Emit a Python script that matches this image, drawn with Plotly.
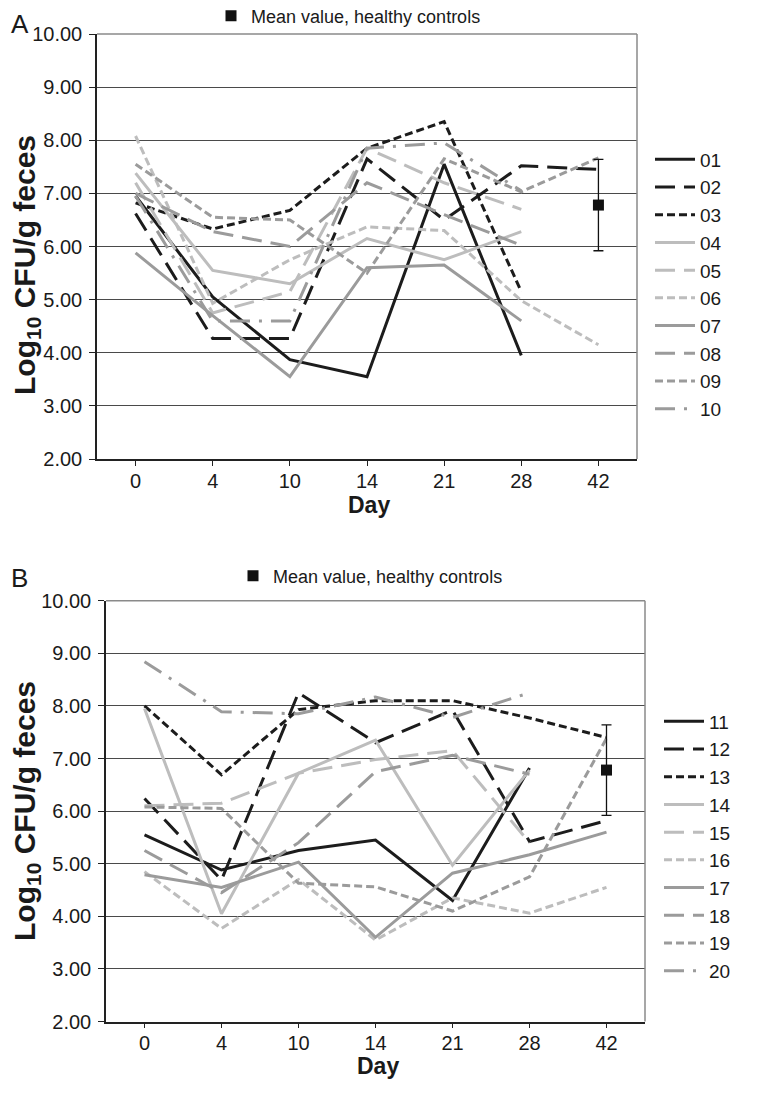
import plotly.graph_objects as go

days = ["0", "4", "10", "14", "21", "28", "42"]

# Panel A patients
ids_a = ["01", "02", "03", "04", "05", "06", "07", "08", "09", "10"]
a01 = [6.95, 5.05, 3.87, 3.55, 7.55, 3.95, None]
a02 = [6.62, 4.27, 4.27, 7.65, 6.50, 7.52, 7.45]
a03 = [6.82, 6.33, 6.68, 7.85, 8.35, 5.15, None]
a04 = [7.38, 5.55, 5.30, 6.15, 5.75, 6.28, None]
a05 = [7.20, 4.75, 5.15, 7.85, 7.20, 6.70, None]
a06 = [8.08, 4.93, 5.75, 6.37, 6.30, 4.98, 4.15]
a07 = [5.88, 4.70, 3.55, 5.60, 5.65, 4.60, None]
a08 = [7.00, 6.28, 6.00, 7.20, 6.60, 6.02, None]
a09 = [7.55, 6.55, 6.50, 5.50, 7.65, 7.03, 7.67]
a10 = [6.95, 4.60, 4.60, 7.85, 7.95, 7.05, None]
values_a = [a01, a02, a03, a04, a05, a06, a07, a08, a09, a10]

# Panel B patients
ids_b = ["11", "12", "13", "14", "15", "16", "17", "18", "19", "20"]
b11 = [5.55, 4.88, 5.25, 5.45, 4.30, 6.82, None]
b12 = [6.24, 4.69, 8.25, 7.30, 7.92, 5.42, 5.82]
b13 = [8.00, 6.69, 7.93, 8.10, 8.10, 7.77, 7.40]
b14 = [7.95, 4.05, 6.72, 7.35, 4.97, 6.78, None]
b15 = [6.10, 6.15, 6.72, 6.98, 7.15, 5.40, None]
b16 = [4.85, 3.77, 4.70, 3.55, 4.35, 4.06, 4.55]
b17 = [4.79, 4.55, 5.03, 3.60, 4.82, 5.17, 5.60]
b18 = [5.25, 4.45, 5.40, 6.75, 7.06, 6.70, None]
b19 = [6.08, 6.05, 4.63, 4.56, 4.10, 4.75, 7.38]
b20 = [8.84, 7.89, 7.85, 8.17, 7.78, 8.25, None]
values_b = [b11, b12, b13, b14, b15, b16, b17, b18, b19, b20]

# Healthy controls
control_day = "42"
control_mean = 6.78
control_sd = 0.86
control_label = "Mean value, healthy controls"

BLACK = "#1c1c1c"
LIGHT = "#bdbdbd"
MED = "#9b9b9b"
SOLID = "solid"
LONG = "20px,9px"
SHORT = "8px,4px"
DASHDOT = "20px,9px,3px,9px"
styles = [(BLACK, SOLID), (BLACK, LONG), (BLACK, SHORT),
          (LIGHT, SOLID), (LIGHT, LONG), (LIGHT, SHORT),
          (MED, SOLID), (MED, LONG), (MED, SHORT), (MED, DASHDOT)]

FONT = "Liberation Sans, Arial, sans-serif"
NARROW = "Liberation Sans Narrow, Liberation Sans, Arial, sans-serif"
W, H = 768, 1097
PAGE_OFF = 8  # body margin of the html page

fig = go.Figure()

panels = [
    dict(ids=ids_a, vals=values_a, xa="x", ya="y", leg="legend", mleg="legend3"),
    dict(ids=ids_b, vals=values_b, xa="x2", ya="y2", leg="legend2", mleg="legend4"),
]

for p in panels:
    for i, (name, vals) in enumerate(zip(p["ids"], p["vals"])):
        col, dash = styles[i]
        fig.add_trace(go.Scatter(
            x=days, y=vals, name=name, mode="lines",
            line=dict(color=col, width=3, dash=dash),
            xaxis=p["xa"], yaxis=p["ya"], legend=p["leg"],
            legendgroup=p["leg"] + name, connectgaps=False,
        ))
    fig.add_trace(go.Scatter(
        x=[control_day], y=[control_mean], name=control_label, mode="markers",
        marker=dict(symbol="square", size=11, color="#111111"),
        error_y=dict(type="data", array=[control_sd], visible=True,
                     color="#111111", thickness=1.3, width=5),
        xaxis=p["xa"], yaxis=p["ya"], legend=p["mleg"],
    ))

def px_x(v):
    return (v - PAGE_OFF) / W

def px_y(v):
    return 1 - (v - PAGE_OFF) / H

axis_common_x = dict(
    type="category", categoryorder="array", categoryarray=days,
    range=[-0.5, 6.5], showline=True, linecolor="#222222", linewidth=1.5,
    ticks="outside", ticklen=5, tickcolor="#222222", showgrid=False,
    tickfont=dict(family=NARROW, size=20, color="#1a1a1a"), zeroline=False,
    automargin=False, ticklabelstandoff=-2,
)
axis_common_y = dict(
    range=[2, 10], dtick=1, tick0=2, tickformat=".2f", showgrid=True,
    gridcolor="#4a4a4a", gridwidth=1, showline=True, linecolor="#222222",
    linewidth=1.5, ticks="outside", ticklen=6, tickcolor="#222222",
    tickfont=dict(family=FONT, size=20, color="#1a1a1a"), zeroline=False,
    automargin=False, ticklabelstandoff=3,
)

fig.update_layout(
    width=W, height=H, margin=dict(l=0, r=0, t=0, b=0, autoexpand=False),
    paper_bgcolor="white", plot_bgcolor="white", showlegend=True,
    xaxis=dict(domain=[px_x(97), px_x(637)], anchor="y", **axis_common_x),
    yaxis=dict(domain=[px_y(459), px_y(34)], anchor="x", **axis_common_y),
    xaxis2=dict(domain=[px_x(106), px_x(645)], anchor="y2", **axis_common_x),
    yaxis2=dict(domain=[px_y(1021.5), px_y(600.7)], anchor="x2", **axis_common_y),
)

leg_font = dict(family=FONT, size=19, color="#1a1a1a")
fig.update_layout(
    legend=dict(x=px_x(650), y=px_y(284), xanchor="left", yanchor="middle",
                font=leg_font, tracegroupgap=0, itemwidth=40, bgcolor="rgba(0,0,0,0)"),
    legend2=dict(x=px_x(659), y=px_y(846), xanchor="left", yanchor="middle",
                 font=leg_font, tracegroupgap=0, itemwidth=40, bgcolor="rgba(0,0,0,0)"),
    legend3=dict(x=px_x(211), y=px_y(16), xanchor="left", yanchor="middle",
                 font=dict(family=FONT, size=18, color="#1a1a1a"), itemwidth=30,
                 bgcolor="rgba(0,0,0,0)"),
    legend4=dict(x=px_x(233), y=px_y(576), xanchor="left", yanchor="middle",
                 font=dict(family=FONT, size=18, color="#1a1a1a"), itemwidth=30,
                 bgcolor="rgba(0,0,0,0)"),
)

shapes = []
for xr, yr in [("x domain", "y domain"), ("x2 domain", "y2 domain")]:
    shapes.append(dict(type="line", xref=xr, yref=yr, x0=0, x1=1, y0=1, y1=1,
                       line=dict(color="#8a8a8a", width=1.5)))
    shapes.append(dict(type="line", xref=xr, yref=yr, x0=1, x1=1, y0=0, y1=1,
                       line=dict(color="#8a8a8a", width=1.5)))
fig.update_layout(shapes=shapes)

title_font = dict(family=FONT, size=30, color="#1a1a1a")
day_font = dict(family=FONT, size=23, color="#1a1a1a")
annotations = [
    dict(text="A", x=px_x(9), y=px_y(24), xref="paper", yref="paper",
         xanchor="left", yanchor="middle", showarrow=False,
         font=dict(family=FONT, size=26, color="#1a1a1a")),
    dict(text="B", x=px_x(9), y=px_y(578), xref="paper", yref="paper",
         xanchor="left", yanchor="middle", showarrow=False,
         font=dict(family=FONT, size=26, color="#1a1a1a")),
    dict(text="<b>Log<sub>10</sub> CFU/g feces</b>", x=px_x(26), y=px_y(265),
         xref="paper", yref="paper", textangle=-90, showarrow=False,
         xanchor="center", yanchor="middle", font=title_font),
    dict(text="<b>Log<sub>10</sub> CFU/g feces</b>", x=px_x(26), y=px_y(811),
         xref="paper", yref="paper", textangle=-90, showarrow=False,
         xanchor="center", yanchor="middle", font=title_font),
    dict(text="<b>Day</b>", x=px_x(369), y=px_y(505), xref="paper", yref="paper",
         showarrow=False, xanchor="center", yanchor="middle", font=day_font),
    dict(text="<b>Day</b>", x=px_x(378), y=px_y(1066), xref="paper", yref="paper",
         showarrow=False, xanchor="center", yanchor="middle", font=day_font),
]
fig.update_layout(annotations=annotations)

fig.write_html("out.html")
